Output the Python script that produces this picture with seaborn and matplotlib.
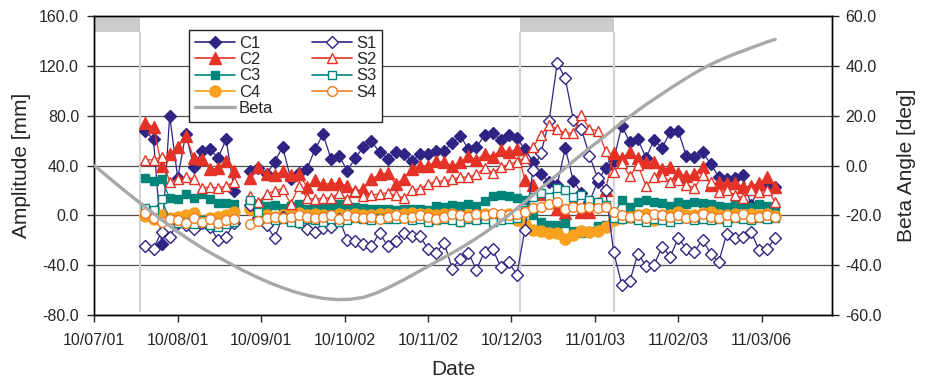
import numpy as np
import pandas as pd
import matplotlib
matplotlib.use("Agg")
import matplotlib.pyplot as plt
import matplotlib.dates as mdates
from matplotlib.lines import Line2D
import seaborn as sns

# ==================================
# DATA
# ==================================

nan = np.nan

# one sample every 3 days, first on 2010-07-20
sample_dates = pd.date_range("2010-07-20", periods=79, freq="3D")

C1 = [67.5, 61, -23, 80, 30, 65.5, 39, 51.5, 53, 46, 61, 19.5, nan, 35.5, 38, 33, 43, 55, 29, 34,
      37, 53, 65, 45, 47.5, 36, 46, 55, 59.5, 50.5, 45.5, 50.5, 49, 43.5, 49, 49, 52, 52, 58, 64,
      53, 54.5, 64.5, 66, 60.5, 64.5, 62, 53, 43, 33, 26.5, 24.5, 54, 27.5, 18, 11, 27, 38, 44, 72,
      58.5, 61, 46, 60.5, 54, 67, 67.5, 47.5, 46.5, 50.5, 41.5, 31, 29, 30, 32, 8, 23, 24, 23]
S1 = [-24.5, -26.5, -13, -17, -6, -8, -11, -6, -9, -20, -17, -6, nan, 8, -2, -8, -18, -1, -3, -5,
      -11, -13, -10, -9, -3, -19.5, -20.5, -22.5, -24.5, -14, -24.5, -20.5, -14, -16.5, -16.5, -27, -30, -22, -42.5, -34.5,
      -30, -43.5, -29, -27, -41, -37.5, -47.5, -11.5, 36.5, 50, 76, 122, 110, 76.5, 69, 48, 30, 20, -29.5, -55.5,
      -52.5, -30.5, -40.5, -39.5, -25, -33, -18, -27, -29, -19.5, -30.5, -37.5, -14.5, -18, -17, -13, -27.5, -27, -18]
C2 = [74, 71, 40, 49, 55, 63.5, 46, 45, 37, 38, 43.5, 35.5, nan, 30, 39, 33, 32, 35.5, 32, 33,
      23, 28, 25, 25.5, 26, 23.5, 19.5, 21.5, 29, 33, 34, 25, 29.5, 37.5, 40, 39.5, 43.5, 42.5, 39.5, 42.5,
      47.5, 44.5, 49.5, 47, 52.5, 51, 53, 28.5, 24.5, 17, 11, 5, 2, 11, 2.5, 2.5, 10, 20.5, 50, 46,
      51, 46, 42.5, 43, 37, 38.5, 34, 31.5, 33, 39, 24.5, 26.5, 26, 26, 23, 23.5, 26, 30.5, 23]
S2 = [44.5, 44.5, 47, 27, 29, 31, 29, 22, 23, 22, 23.5, 27, nan, 15.5, 10.5, 17.5, 19.5, 21.5, 9, 23.5,
      14, 13, 14, 14, 18, 13, 19.5, 15.5, 16, 17.5, 18, 16, 14, 20, 21.5, 25, 27.5, 27.5, 29, 31,
      30.5, 33, 38, 34, 38.5, 41, 43, 46, 55, 64.5, 72.5, 69, 66, 66, 80.5, 69, 68, 52, 35, 42,
      31.5, 40.5, 23.5, 30.5, 31.5, 27, 28.5, 24.5, 22, 32.5, 26.5, 19, 20, 16.5, 14, 20.5, 19, 20.5, 11]
C3 = [30, 27.5, 29, 14, 12.8, 16.8, 14, 16.8, 12.8, 9.6, 10, 8.8, nan, 10, 9, 7.5, 8, 6, 7.5, 9,
      5, 5, 7.5, 7, 9, 7.5, 7, 6, 5, 5, 5, 4, 5, 5, 5, 4, 7.5, 7, 8.5, 7.5,
      9.3, 7.2, 11.2, 15.2, 16.5, 15.2, 14, 12.5, 0.5, -5.5, -7.5, -7.5, -6, -12.8, -14, -12.8, -8.8, -7.5, 0, 12.5,
      7, 11, 12.5, 11, 10, 7.5, 11, 9.5, 10.5, 10, 9.5, 7.5, 7, 8.5, 9.5, 7, 9.5, 7.5, 6.5]
S3 = [6, 4, 13, -3, -6, -5, -7, -4, -8, -9, -7, -5, nan, 12, 3, -2, -4, -3, -5, -6,
      -3, -4, -5, -3, -5, -4, -2, -3, -4, -2, -3, -3, -2, -4, -3, -5, -4, -3, -4, -5,
      -3, -4, -3, -5, -4, -3, -2, 4, 15, 18, 15, 22, 20, 15, 16.5, 12.5, 11, 8.5, -2, -3,
      -2, -4, -5, -3, -4, -5, -3, -2, -4, -3, -4, -3, -5, -2, -3, -4, -2, -3, -2]
C4 = [-0.5, -3, 0, -2, -1, 0, 2, -4.5, -2, -1.3, 0, 2.7, nan, 4.8, 1, 0, -1, 0, 1, 2,
      0, 1, 0.5, -0.5, 1, 0, 1.5, 0, 0.5, 1, 1.5, 0, 1, 2, 1, 1.5, 0.5, 1, 1.3, -4.5,
      0.5, 0.5, 1.3, 0.5, -0.5, 1.3, -4, -6.5, -11.5, -12.8, -14, -14, -19, -15.5, -12.8, -13.5, -12.8, -9.5, -3.5, -2,
      -1, 0.5, 1.3, -3.5, 0, 0, 2.4, 0, 0.5, 2, 3, 0, 0.5, 1.5, 0.5, 1.5, 0.5, 1.3, -0.5]
S4 = [2, -2, -5, -3, -4, -6, -2, -5, -3, -6, -4, -3, nan, -7, -4.5, -2, -1, -2, -1, 0,
      -1, -2, -1, 0, -3, 0, -1, -2, -1, -3, -1, 0, -2, -1, 0, -1, -3, -1, 1, 0,
      -1, 1, 0, 2, 1, 0, 1, 3, 6, 7, 9.3, 11, 5, 7, 6, 7, 6, 7, 2.5, 0,
      -1, 0, -2, 1, 0, -1, 0, -2, -1, 1, -1, -2, 0, -1, 1, -2, -1, 0, -1]

# beta angle, days after 2010-07-01 and degrees
beta_days = [0, 5, 10, 15, 20, 25, 30, 35, 40, 45, 50, 55, 60, 65, 70, 75, 80, 85, 90, 95,
             100, 105, 110, 115, 120, 125, 130, 135, 140, 145, 150, 155, 160, 165, 170, 175,
             180, 185, 190, 195, 200, 205, 210, 215, 220, 225, 230, 235, 240, 245, 250, 253]
beta_deg = [0, -4.5, -9, -13.3, -17.5, -21.7, -25.8, -29.5, -33, -36.1, -39, -41.9, -44.5,
            -46.9, -49, -50.8, -52.2, -53.2, -53.7, -53.6, -52.8, -51.0, -48.5, -45.8, -42.8,
            -39.8, -36.8, -33.8, -30.5, -27, -23.2, -19, -14.6, -10, -5.5, -1, 3.5, 7.8, 12,
            16.3, 20.5, 24.4, 28, 31.6, 35, 38.2, 41, 43.4, 45.5, 47.5, 49.5, 50.5]

# eclipse seasons (grey bands at top)
eclipse_start = ["2010-07-01", "2010-12-06"]
eclipse_end = ["2010-07-18", "2011-01-10"]

tick_dates = ["2010-07-01", "2010-08-01", "2010-09-01", "2010-10-02", "2010-11-02",
              "2010-12-03", "2011-01-03", "2011-02-03", "2011-03-06"]

# ==================================
# STYLE
# ==================================

sns.set_style("white")
plt.rcParams["font.family"] = ["Liberation Sans", "DejaVu Sans"]

blue = "#2e2483"
red = "#e53226"
teal = "#00857a"
orange = "#f7a11e"
orange_open = "#f07b22"

series = [
    ("C1", C1, blue, "D", 6.0, True),
    ("C2", C2, red, "^", 8.0, True),
    ("C3", C3, teal, "s", 6.0, True),
    ("C4", C4, orange, "o", 8.0, True),
    ("S1", S1, blue, "D", 6.0, False),
    ("S2", S2, red, "^", 7.5, False),
    ("S3", S3, teal, "s", 6.0, False),
    ("S4", S4, orange_open, "o", 7.0, False),
]

df = pd.DataFrame({"date": sample_dates})
for name, vals, *_ in series:
    df[name] = vals
# break the lines where data are missing
df["seg"] = df["C1"].isna().cumsum()

# ==================================
# PLOT
# ==================================

fig = plt.figure(figsize=(9.3, 3.85), dpi=100)
ax = fig.add_axes([0.1014, 0.181, 0.7929, 0.7782])

x0 = pd.Timestamp("2010-07-01")
ax.set_xlim(x0, x0 + pd.Timedelta(days=274))
ax.set_ylim(-80, 160)

# eclipse bands and boundaries
for s, e in zip(eclipse_start, eclipse_end):
    ax.axvspan(pd.Timestamp(s), pd.Timestamp(e), ymin=(147 + 80) / 240, ymax=1,
               color="#cccccc", lw=0, zorder=1)
    ax.vlines([pd.Timestamp(s), pd.Timestamp(e)], -77, 147, color="#d4d4d4", lw=1.6, zorder=1)

handles = []
for name, vals, col, mk, ms, filled in series:
    d = df.dropna(subset=[name])
    sns.lineplot(data=d, x="date", y=name, units="seg", estimator=None, ax=ax,
                 color=col, lw=0.9, marker=mk, markersize=ms,
                 markerfacecolor=col if filled else "white",
                 markeredgecolor=col, markeredgewidth=1.0, zorder=3)
    handles.append(Line2D([], [], color=col, lw=1.2, marker=mk, markersize=ms,
                          markerfacecolor=col if filled else "white",
                          markeredgecolor=col, markeredgewidth=1.0, label=name))

ax.set_xlabel("")
ax.set_ylabel("")
ax.yaxis.grid(True, color="#4d4d4d", lw=0.9, zorder=0)
ax.xaxis.grid(False)
ax.set_yticks(np.arange(-80, 161, 40))
ax.yaxis.set_major_formatter(matplotlib.ticker.FormatStrFormatter("%.1f"))
ax.set_xticks([pd.Timestamp(t) for t in tick_dates])
ax.xaxis.set_major_formatter(mdates.DateFormatter("%y/%m/%d"))
ax.tick_params(axis="x", direction="out", length=5, width=1, pad=8, labelsize=11.5, bottom=True)
ax.tick_params(axis="y", direction="out", length=5, width=1, pad=6, labelsize=11.5, left=True)

ax2 = ax.twinx()
bdates = [x0 + pd.Timedelta(days=d) for d in beta_days]
sns.lineplot(x=bdates, y=beta_deg, ax=ax2, color="#a8a8a8", lw=2.4, zorder=4)
ax2.set_ylim(-60, 60)
ax2.set_yticks(np.arange(-60, 61, 20))
ax2.yaxis.set_major_formatter(matplotlib.ticker.FormatStrFormatter("%.1f"))
ax2.tick_params(axis="y", direction="out", length=5, width=1, pad=5, labelsize=11.5, right=True)
ax2.grid(False)

for a in (ax, ax2):
    for sp in a.spines.values():
        sp.set_color("black")
        sp.set_linewidth(1.0)

ax.set_ylabel("Amplitude [mm]", fontsize=15)
ax2.set_ylabel("Beta Angle [deg]", fontsize=15)
ax.set_xlabel("Date", fontsize=15)
ax.yaxis.set_label_coords(-0.086, 0.5)
ax2.yaxis.set_label_coords(1.088, 0.5)
ax.xaxis.set_label_coords(0.487, -0.15)

order = handles[:4] + [Line2D([], [], color="#a8a8a8", lw=2.4, label="Beta")] + handles[4:]
leg = ax2.legend(handles=order, ncol=2, loc="upper left", bbox_to_anchor=(0.1284, 0.9523),
                 borderaxespad=0, fontsize=12, frameon=True, fancybox=False, framealpha=1,
                 edgecolor="#222222", handlelength=2.4, handletextpad=0.25,
                 columnspacing=2.3, labelspacing=0.08, borderpad=0.35)
leg.get_frame().set_linewidth(1.0)

plt.savefig("out.png", dpi=100)
